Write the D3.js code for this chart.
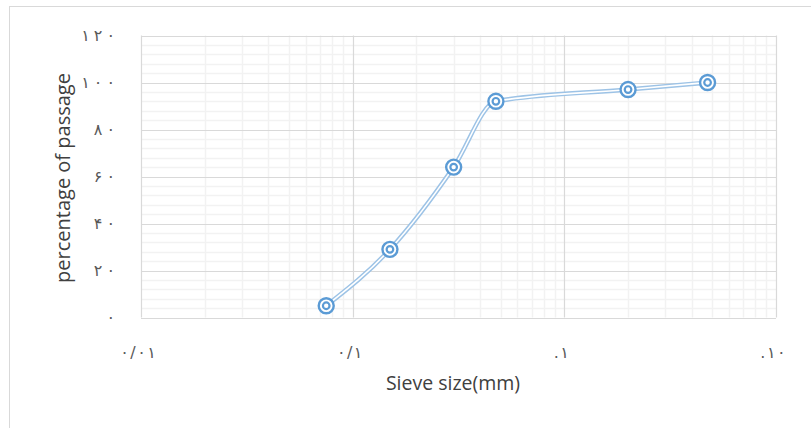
<!DOCTYPE html>
<html><head><meta charset="utf-8">
<script src="https://cdn.jsdelivr.net/npm/d3@7/dist/d3.min.js"></script>
<style>body{margin:0;background:#fff}svg{display:block}</style>
</head><body>
<svg id="c" width="811" height="428"></svg>
<script>
const sieveSize = [0.075, 0.15, 0.3, 0.475, 2, 4.75];
const passing = [5, 29, 64, 92, 97, 100];
const xTicks = [0.01, 0.1, 1, 10];
const xTickLabels = ["۰/۰۱", "۰/۱", ".۱", ".۱۰"];
const yTicks = [0, 20, 40, 60, 80, 100, 120];
const yTickLabels = ["۰", "۲۰", "۴۰", "۶۰", "۸۰", "۱۰۰", "۱۲۰"];

const svg = d3.select("#c");
const L = 141, R = 776, T = 35.5, B = 317.5;
const x = d3.scaleLog().domain([0.01, 10]).range([L, R]);
const y = d3.scaleLinear().domain([0, 120]).range([B, T]);

svg.append("rect").attr("x", 9.5).attr("y", 6.5).attr("width", 830).attr("height", 440)
  .attr("fill", "#fff").attr("stroke", "#d9d9d9").attr("stroke-width", 1);

const g = svg.append("g");
const yMinor = d3.range(0, 121, 4).filter(v => v % 20 !== 0);
g.selectAll(".ym").data(yMinor).join("line")
  .attr("x1", L).attr("x2", R).attr("y1", d => Math.round(y(d)) + 0.5).attr("y2", d => Math.round(y(d)) + 0.5)
  .attr("stroke", "#f2f2f2").attr("stroke-width", 1.5);
const xMinor = [];
[0.01, 0.1, 1].forEach(dec => { for (let k = 2; k <= 9; k++) xMinor.push(dec * k); });
g.selectAll(".xm").data(xMinor).join("line")
  .attr("y1", T).attr("y2", B).attr("x1", d => Math.round(x(d)) + 0.5).attr("x2", d => Math.round(x(d)) + 0.5)
  .attr("stroke", "#f2f2f2").attr("stroke-width", 1.5);
g.selectAll(".yM").data(yTicks).join("line")
  .attr("x1", L).attr("x2", R).attr("y1", d => Math.round(y(d)) + 0.5).attr("y2", d => Math.round(y(d)) + 0.5)
  .attr("stroke", "#d9d9d9").attr("stroke-width", 1.2);
g.selectAll(".xM").data(xTicks).join("line")
  .attr("y1", T).attr("y2", B).attr("x1", d => Math.round(x(d)) + 0.5).attr("x2", d => Math.round(x(d)) + 0.5)
  .attr("stroke", "#d9d9d9").attr("stroke-width", 1.2);

const font = "'Open Sans','DejaVu Sans',sans-serif";
const digitFont = "'DejaVu Sans',sans-serif";
function spaced(sel, gap) {
  sel.each(function(label) {
    const t = d3.select(this);
    [...label].forEach((ch, k) => t.append("tspan").attr("dx", k ? gap : 0).text(ch));
  });
}
svg.selectAll(".yl").data(yTickLabels).join("text")
  .attr("x", 115).attr("y", (d, i) => y(yTicks[i])).attr("dy", "0.35em").attr("text-anchor", "end")
  .attr("direction", "ltr").attr("font-family", digitFont).attr("font-size", 16)
  .attr("fill", "#595959")
  .call(spaced, 4);
svg.selectAll(".xl").data(xTickLabels).join("text")
  .attr("x", (d, i) => x(xTicks[i]) - 3).attr("y", 352).attr("dy", "0.35em").attr("text-anchor", "middle")
  .attr("direction", "ltr").attr("font-family", digitFont).attr("font-size", 16)
  .attr("fill", "#595959")
  .call(spaced, 1.5);

svg.append("text").attr("transform", "translate(63,178) rotate(-90)").attr("text-anchor", "middle")
  .attr("dy", "0.35em").attr("font-family", font).attr("font-size", 20).attr("fill", "#404040")
  .text("percentage of passage");
svg.append("text").attr("x", 453).attr("y", 383).attr("text-anchor", "middle").attr("dy", "0.35em")
  .attr("font-family", font).attr("font-size", 19.5).attr("fill", "#404040").text("Sieve size(mm)");

const pts = sieveSize.map((s, i) => [x(s), y(passing[i])]);
const line = d3.line().curve(d3.curveMonotoneX);
svg.append("path").attr("d", line(pts)).attr("fill", "none").attr("stroke", "#9dc3e6").attr("stroke-width", 4.5);
svg.append("path").attr("d", line(pts)).attr("fill", "none").attr("stroke", "#fff").attr("stroke-width", 1.6);

const m = svg.selectAll(".pt").data(pts).join("g").attr("transform", d => `translate(${d[0]},${d[1]})`);
m.append("circle").attr("r", 7.5).attr("fill", "#fff").attr("stroke", "#5b9bd5").attr("stroke-width", 2.4);
m.append("circle").attr("r", 3.3).attr("fill", "#fff").attr("stroke", "#5b9bd5").attr("stroke-width", 2.2);
</script>
</body></html>
